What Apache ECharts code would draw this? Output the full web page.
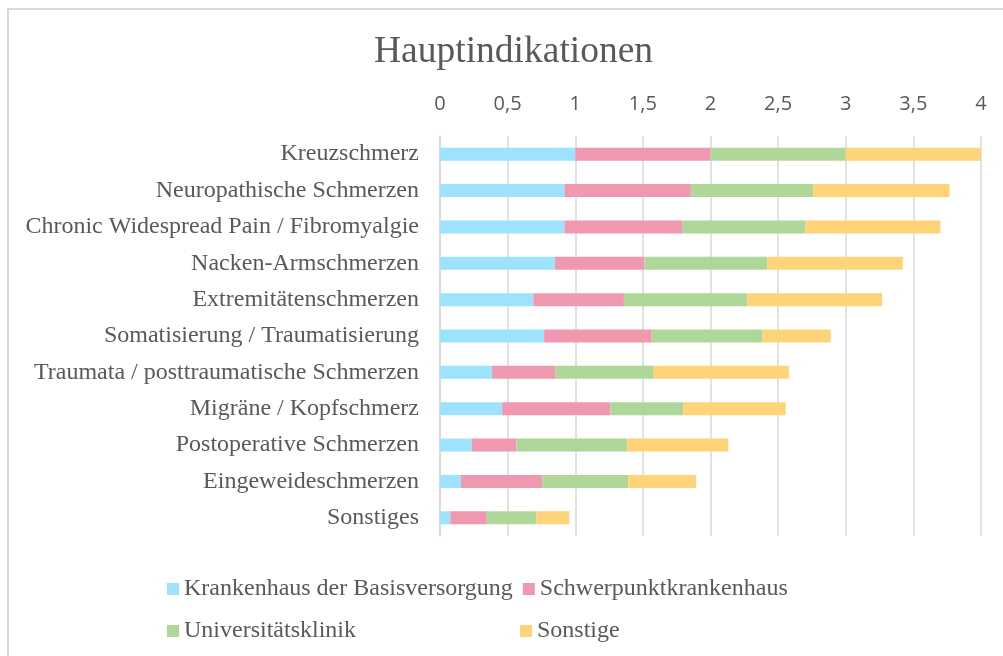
<!DOCTYPE html>
<html>
<head>
<meta charset="utf-8">
<script src="https://cdn.jsdelivr.net/npm/echarts@6/dist/echarts.min.js"></script>
<style>html,body{margin:0;padding:0;background:#fff;}#chart{width:1003px;height:656px;}</style>
</head>
<body>
<div id="chart"></div>
<script>
const categories = [
  'Kreuzschmerz',
  'Neuropathische Schmerzen',
  'Chronic Widespread Pain / Fibromyalgie',
  'Nacken-Armschmerzen',
  'Extremitätenschmerzen',
  'Somatisierung / Traumatisierung',
  'Traumata / posttraumatische Schmerzen',
  'Migräne / Kopfschmerz',
  'Postoperative Schmerzen',
  'Eingeweideschmerzen',
  'Sonstiges'
];
const seriesNames = ['Krankenhaus der Basisversorgung', 'Schwerpunktkrankenhaus', 'Universitätsklinik', 'Sonstige'];
const basis = [1.0, 0.92, 0.92, 0.85, 0.69, 0.77, 0.385, 0.46, 0.235, 0.155, 0.076];
const schwerpunkt = [1.0, 0.935, 0.87, 0.66, 0.67, 0.795, 0.467, 0.80, 0.33, 0.60, 0.27];
const uni = [1.0, 0.905, 0.91, 0.91, 0.913, 0.818, 0.728, 0.538, 0.818, 0.636, 0.367];
const sonstige = [1.0, 1.007, 1.0, 1.002, 0.996, 0.506, 0.999, 0.757, 0.749, 0.503, 0.243];
const xTicks = { min: 0, max: 4, interval: 0.5 };
const colors = ['#9DE2FE', '#F098AF', '#B0D79A', '#FFD378'];

const values = [basis, schwerpunkt, uni, sonstige];
const textColor = '#595959';
const serif = '"Liberation Serif", "Times New Roman", serif';

const chart = echarts.init(document.getElementById('chart'));
chart.setOption({
  animation: false,
  backgroundColor: '#fff',
  title: {
    text: 'Hauptindikationen',
    left: 374,
    top: 33,
    padding: 0,
    textStyle: { fontFamily: serif, fontSize: 37.5, fontWeight: 'normal', color: textColor }
  },
  graphic: [{
    type: 'rect',
    shape: { x: 8, y: 9, width: 1200, height: 900 },
    style: { fill: 'none', stroke: '#d9d9d9', lineWidth: 2 },
    silent: true
  }],
  legend: {
    left: 167,
    top: 573,
    padding: 0,
    width: 720,
    itemWidth: 12,
    itemHeight: 12,
    itemGap: 10,
    icon: 'rect',
    data: seriesNames,
    textStyle: { fontFamily: serif, fontSize: 24, color: textColor, width: 326, lineHeight: 32 }
  },
  grid: { left: 440, right: 22, top: 136, bottom: 120, containLabel: false },
  xAxis: {
    type: 'value',
    position: 'top',
    min: xTicks.min,
    max: xTicks.max,
    interval: xTicks.interval,
    axisLine: { show: false },
    axisTick: { show: false },
    splitLine: { lineStyle: { color: '#d9d9d9', width: 1.5 } },
    axisLabel: {
      margin: 22,
      color: textColor,
      fontSize: 20,
      fontFamily: '"Open Sans", "Noto Sans", sans-serif',
      formatter: v => String(v).replace('.', ',')
    }
  },
  yAxis: {
    type: 'category',
    inverse: true,
    data: categories,
    axisLine: { show: true, lineStyle: { color: '#d9d9d9', width: 1.5 } },
    axisTick: { show: false },
    axisLabel: { margin: 21, color: textColor, fontSize: 24, fontFamily: serif }
  },
  series: seriesNames.map((n, i) => ({
    name: n,
    type: 'bar',
    stack: 'total',
    barWidth: 13,
    data: values[i],
    itemStyle: { color: colors[i] }
  }))
});
</script>
</body>
</html>
